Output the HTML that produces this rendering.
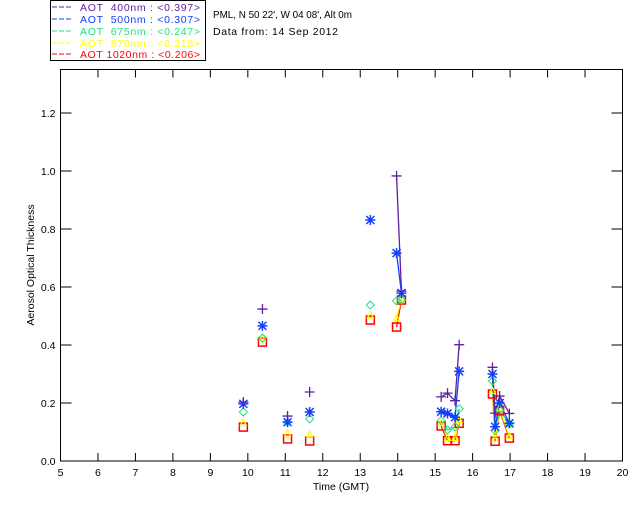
<!DOCTYPE html>
<html><head><meta charset="utf-8"><style>
body{margin:0;background:#fff;}
svg{display:block;font-family:"Liberation Sans",sans-serif;}
</style></head><body>
<svg id="chart" width="640" height="512" viewBox="0 0 640 512" xmlns="http://www.w3.org/2000/svg">
<rect width="640" height="512" fill="#fff"/>
<g>
<rect x="50.5" y="0.5" width="155" height="60" fill="#fff" stroke="#000" stroke-width="1"/>
<g font-size="10.5">
<line x1="52" y1="7" x2="73" y2="7" stroke="#6020a0" stroke-dasharray="5,2"/><text x="80" y="11" fill="#6020a0" textLength="120" lengthAdjust="spacing" xml:space="preserve">AOT  400nm : &lt;0.397&gt;</text>
<line x1="52" y1="19" x2="73" y2="19" stroke="#1040ff" stroke-dasharray="5,2"/><text x="80" y="23" fill="#1040ff" textLength="120" lengthAdjust="spacing" xml:space="preserve">AOT  500nm : &lt;0.307&gt;</text>
<line x1="52" y1="31" x2="73" y2="31" stroke="#20e080" stroke-dasharray="5,2"/><text x="80" y="35" fill="#20e080" textLength="120" lengthAdjust="spacing" xml:space="preserve">AOT  675nm : &lt;0.247&gt;</text>
<line x1="52" y1="43" x2="73" y2="43" stroke="#ffff00" stroke-dasharray="5,2"/><text x="80" y="47" fill="#ffff00" textLength="120" lengthAdjust="spacing" xml:space="preserve">AOT  870nm : &lt;0.218&gt;</text>
<line x1="52" y1="54" x2="73" y2="54" stroke="#ff0000" stroke-dasharray="5,2"/><text x="80" y="58" fill="#ff0000" textLength="120" lengthAdjust="spacing" xml:space="preserve">AOT 1020nm : &lt;0.206&gt;</text>
</g></g>
<text x="213" y="18" font-size="10.5" textLength="139" lengthAdjust="spacingAndGlyphs">PML, N 50 22', W 04 08', Alt 0m</text>
<text x="213" y="35" font-size="10.5" textLength="125" lengthAdjust="spacing">Data from: 14 Sep 2012</text>
<rect x="60.5" y="69.5" width="562" height="391.5" fill="none" stroke="#000"/>
<g id="axes" font-size="10.5"></g>
<g id="marks"></g>
<text x="341" y="490" font-size="10.5" text-anchor="middle">Time (GMT)</text>
<text transform="translate(34,265) rotate(-90)" font-size="10.5" text-anchor="middle">Aerosol Optical Thickness</text>
</svg>
<script>
const times = [9.88,10.39,11.06,11.65,13.27,13.97,14.1,15.16,15.33,15.53,15.64,16.53,16.6,16.72,16.98];
const a400 = [0.203,0.524,0.155,0.238,null,0.983,0.586,0.221,0.234,0.208,0.401,0.323,0.165,0.224,0.164];
const a500 = [0.197,0.466,0.134,0.169,0.831,0.717,0.579,0.170,0.164,0.151,0.309,0.30,0.118,0.2,0.13];
const a675 = [0.169,0.424,0.134,0.145,0.538,0.552,0.555,0.139,0.107,0.118,0.18,0.276,0.105,0.176,0.128];
const a870 = [0.13,0.42,0.093,0.09,0.50,0.49,0.56,0.13,0.078,0.078,0.14,0.24,0.075,0.18,0.085];
const a1020 = [0.117,0.41,0.076,0.069,0.486,0.462,0.555,0.121,0.07,0.07,0.13,0.231,0.068,0.173,0.079];
const xTicks = [5,6,7,8,9,10,11,12,13,14,15,16,17,18,19,20];
const yTicks = ["0.0","0.2","0.4","0.6","0.8","1.0","1.2"];
const NS="http://www.w3.org/2000/svg";
const X0=60.5,X1=622.5,Y0=461,PPU=290;
function xs(h){return X0+(h-5)*(X1-X0)/15;}
function ys(v){return Y0-v*PPU;}
function mk(tag,attrs,parent){const e=document.createElementNS(NS,tag);for(const k in attrs)e.setAttribute(k,attrs[k]);parent.appendChild(e);return e;}
const axes=document.getElementById('axes');
xTicks.forEach(t=>{
  const x=xs(t);
  let l=mk('line',{x1:x,y1:Y0,x2:x,y2:Y0-8,stroke:'#000'},axes);
  
  
  let l2=mk('line',{x1:x,y1:69.5,x2:x,y2:77.5,stroke:'#000'},axes);
  
  
  const tx=mk('text',{x:x,y:Y0+15,'text-anchor':'middle'},axes);
  tx.textContent=t;
  
  
});
yTicks.forEach(t=>{
  const y=ys(parseFloat(t));
  let l=mk('line',{x1:X0,y1:y,x2:X0+11,y2:y,stroke:'#000'},axes);
  
  
  let l2=mk('line',{x1:X1,y1:y,x2:X1-11,y2:y,stroke:'#000'},axes);
  
  
  const tx=mk('text',{x:X0-5,y:y+4,'text-anchor':'end'},axes);
  tx.textContent=t;
  
  
});
const series=[
  {name:'400',vals:a400,color:'#6020a0',sym:'plus'},
  {name:'500',vals:a500,color:'#1040ff',sym:'star'},
  {name:'675',vals:a675,color:'#20e080',sym:'diamond'},
  {name:'870',vals:a870,color:'#ffff00',sym:'tri'},
  {name:'1020',vals:a1020,color:'#ff0000',sym:'square'}
];
const marks=document.getElementById('marks');
series.slice().reverse().forEach(s=>{
  for(let i=1;i<times.length;i++){
    const a=s.vals[i-1],b=s.vals[i];
    if(a==null||b==null||times[i]-times[i-1]>0.4)continue;
    const l=mk('line',{x1:xs(times[i-1]),y1:ys(a),x2:xs(times[i]),y2:ys(b),stroke:s.color,'stroke-width':1.3},marks);
    
    
  }
});
series.slice().reverse().forEach(s=>{
  s.vals.forEach((v,i)=>{
    if(v==null)return;
    const x=xs(times[i]),y=ys(v);let e;
    if(s.sym==='plus'){e=mk('path',{d:`M${x-5},${y}H${x+5}M${x},${y-5}V${y+5}`,stroke:s.color,'stroke-width':1.3,fill:'none'},marks);}
    else if(s.sym==='star'){e=mk('path',{d:`M${x-5},${y}H${x+5}M${x},${y-5}V${y+5}M${x-4},${y-4}L${x+4},${y+4}M${x-4},${y+4}L${x+4},${y-4}`,stroke:s.color,'stroke-width':1.5,fill:'none'},marks);}
    else if(s.sym==='diamond'){e=mk('path',{d:`M${x},${y-4}L${x+4},${y}L${x},${y+4}L${x-4},${y}Z`,stroke:s.color,'stroke-width':1,fill:'none'},marks);}
    else if(s.sym==='tri'){e=mk('path',{d:`M${x},${y-4}L${x+3},${y+2}L${x-3},${y+2}Z`,stroke:s.color,'stroke-width':1.2,fill:'none'},marks);}
    else {e=mk('rect',{x:x-4,y:y-4,width:8,height:8,stroke:s.color,'stroke-width':1.5,fill:'none'},marks);}
    
    
  });
});
</script>
</body></html>
